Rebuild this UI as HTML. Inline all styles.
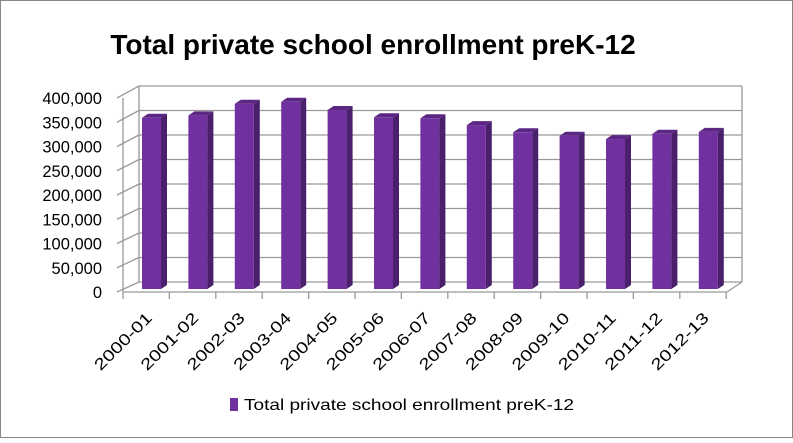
<!DOCTYPE html>
<html><head><style>body{margin:0;background:#fff}</style></head><body>
<svg width="793" height="438" xmlns="http://www.w3.org/2000/svg" font-family="Liberation Sans, sans-serif">
<rect x="0.5" y="0.5" width="792" height="437" fill="#fff" stroke="#888"/>
<text x="373" y="54" font-size="28" font-weight="bold" text-anchor="middle" fill="#000">Total private school enrollment preK-12</text>
<g stroke="#999" stroke-width="1.3" fill="none">
<line x1="139" y1="86" x2="139" y2="282"/>
<line x1="742" y1="86" x2="742" y2="282"/>
<line x1="123" y1="98" x2="123" y2="292"/>
<line x1="123" y1="292" x2="727" y2="292"/>
<line x1="727" y1="292" x2="742" y2="282"/>
<line x1="139" y1="282" x2="742" y2="282"/><line x1="117" y1="292" x2="139" y2="282"/>
<line x1="139" y1="257.5" x2="742" y2="257.5"/><line x1="117" y1="267.75" x2="139" y2="257.5"/>
<line x1="139" y1="233" x2="742" y2="233"/><line x1="117" y1="243.5" x2="139" y2="233"/>
<line x1="139" y1="208.5" x2="742" y2="208.5"/><line x1="117" y1="219.25" x2="139" y2="208.5"/>
<line x1="139" y1="184" x2="742" y2="184"/><line x1="117" y1="195" x2="139" y2="184"/>
<line x1="139" y1="159.5" x2="742" y2="159.5"/><line x1="117" y1="170.75" x2="139" y2="159.5"/>
<line x1="139" y1="135" x2="742" y2="135"/><line x1="117" y1="146.5" x2="139" y2="135"/>
<line x1="139" y1="110.5" x2="742" y2="110.5"/><line x1="117" y1="122.25" x2="139" y2="110.5"/>
<line x1="139" y1="86" x2="742" y2="86"/><line x1="117" y1="98" x2="139" y2="86"/>
<line x1="123" y1="292" x2="123" y2="299"/><line x1="169.4" y1="292" x2="169.4" y2="299"/><line x1="215.8" y1="292" x2="215.8" y2="299"/><line x1="262.2" y1="292" x2="262.2" y2="299"/><line x1="308.6" y1="292" x2="308.6" y2="299"/><line x1="355" y1="292" x2="355" y2="299"/><line x1="401.4" y1="292" x2="401.4" y2="299"/><line x1="447.8" y1="292" x2="447.8" y2="299"/><line x1="494.2" y1="292" x2="494.2" y2="299"/><line x1="540.6" y1="292" x2="540.6" y2="299"/><line x1="587" y1="292" x2="587" y2="299"/><line x1="633.4" y1="292" x2="633.4" y2="299"/><line x1="679.8" y1="292" x2="679.8" y2="299"/><line x1="726.2" y1="292" x2="726.2" y2="299"/>
</g>
<g>
<g transform="translate(142,117.8)"><rect width="19" height="171.2" fill="#7030a0"/><polygon points="19,0 25,-4 25,167.2 19,171.2" fill="#4a1f6c"/><polygon points="0,0 6,-4 25,-4 19,0" fill="#5c2685"/></g>
<g transform="translate(188.4,115.4)"><rect width="19" height="173.6" fill="#7030a0"/><polygon points="19,0 25,-4 25,169.6 19,173.6" fill="#4a1f6c"/><polygon points="0,0 6,-4 25,-4 19,0" fill="#5c2685"/></g>
<g transform="translate(234.8,103.7)"><rect width="19" height="185.3" fill="#7030a0"/><polygon points="19,0 25,-4 25,181.3 19,185.3" fill="#4a1f6c"/><polygon points="0,0 6,-4 25,-4 19,0" fill="#5c2685"/></g>
<g transform="translate(281.2,101.8)"><rect width="19" height="187.2" fill="#7030a0"/><polygon points="19,0 25,-4 25,183.2 19,187.2" fill="#4a1f6c"/><polygon points="0,0 6,-4 25,-4 19,0" fill="#5c2685"/></g>
<g transform="translate(327.6,110)"><rect width="19" height="179" fill="#7030a0"/><polygon points="19,0 25,-4 25,175 19,179" fill="#4a1f6c"/><polygon points="0,0 6,-4 25,-4 19,0" fill="#5c2685"/></g>
<g transform="translate(374,117.3)"><rect width="19" height="171.7" fill="#7030a0"/><polygon points="19,0 25,-4 25,167.7 19,171.7" fill="#4a1f6c"/><polygon points="0,0 6,-4 25,-4 19,0" fill="#5c2685"/></g>
<g transform="translate(420.4,118.3)"><rect width="19" height="170.7" fill="#7030a0"/><polygon points="19,0 25,-4 25,166.7 19,170.7" fill="#4a1f6c"/><polygon points="0,0 6,-4 25,-4 19,0" fill="#5c2685"/></g>
<g transform="translate(466.8,125.1)"><rect width="19" height="163.9" fill="#7030a0"/><polygon points="19,0 25,-4 25,159.9 19,163.9" fill="#4a1f6c"/><polygon points="0,0 6,-4 25,-4 19,0" fill="#5c2685"/></g>
<g transform="translate(513.2,132.3)"><rect width="19" height="156.7" fill="#7030a0"/><polygon points="19,0 25,-4 25,152.7 19,156.7" fill="#4a1f6c"/><polygon points="0,0 6,-4 25,-4 19,0" fill="#5c2685"/></g>
<g transform="translate(559.6,135.7)"><rect width="19" height="153.3" fill="#7030a0"/><polygon points="19,0 25,-4 25,149.3 19,153.3" fill="#4a1f6c"/><polygon points="0,0 6,-4 25,-4 19,0" fill="#5c2685"/></g>
<g transform="translate(606,139.1)"><rect width="19" height="149.9" fill="#7030a0"/><polygon points="19,0 25,-4 25,145.9 19,149.9" fill="#4a1f6c"/><polygon points="0,0 6,-4 25,-4 19,0" fill="#5c2685"/></g>
<g transform="translate(652.4,133.8)"><rect width="19" height="155.2" fill="#7030a0"/><polygon points="19,0 25,-4 25,151.2 19,155.2" fill="#4a1f6c"/><polygon points="0,0 6,-4 25,-4 19,0" fill="#5c2685"/></g>
<g transform="translate(698.8,131.9)"><rect width="19" height="157.1" fill="#7030a0"/><polygon points="19,0 25,-4 25,153.1 19,157.1" fill="#4a1f6c"/><polygon points="0,0 6,-4 25,-4 19,0" fill="#5c2685"/></g>
</g>
<g font-size="16.5" fill="#000" text-anchor="end">
<text x="102" y="298">0</text>
<text x="102" y="273.75">50,000</text>
<text x="102" y="249.5">100,000</text>
<text x="102" y="225.25">150,000</text>
<text x="102" y="201">200,000</text>
<text x="102" y="176.75">250,000</text>
<text x="102" y="152.5">300,000</text>
<text x="102" y="128.25">350,000</text>
<text x="102" y="104">400,000</text>
</g>
<g font-size="16" fill="#000" text-anchor="end">
<text transform="translate(153,319) rotate(-45)" textLength="74" lengthAdjust="spacingAndGlyphs">2000-01</text>
<text transform="translate(199.4,319) rotate(-45)" textLength="74" lengthAdjust="spacingAndGlyphs">2001-02</text>
<text transform="translate(245.8,319) rotate(-45)" textLength="74" lengthAdjust="spacingAndGlyphs">2002-03</text>
<text transform="translate(292.2,319) rotate(-45)" textLength="74" lengthAdjust="spacingAndGlyphs">2003-04</text>
<text transform="translate(338.6,319) rotate(-45)" textLength="74" lengthAdjust="spacingAndGlyphs">2004-05</text>
<text transform="translate(385,319) rotate(-45)" textLength="74" lengthAdjust="spacingAndGlyphs">2005-06</text>
<text transform="translate(431.4,319) rotate(-45)" textLength="74" lengthAdjust="spacingAndGlyphs">2006-07</text>
<text transform="translate(477.8,319) rotate(-45)" textLength="74" lengthAdjust="spacingAndGlyphs">2007-08</text>
<text transform="translate(524.2,319) rotate(-45)" textLength="74" lengthAdjust="spacingAndGlyphs">2008-09</text>
<text transform="translate(570.6,319) rotate(-45)" textLength="74" lengthAdjust="spacingAndGlyphs">2009-10</text>
<text transform="translate(617,319) rotate(-45)" textLength="74" lengthAdjust="spacingAndGlyphs">2010-11</text>
<text transform="translate(663.4,319) rotate(-45)" textLength="74" lengthAdjust="spacingAndGlyphs">2011-12</text>
<text transform="translate(709.8,319) rotate(-45)" textLength="74" lengthAdjust="spacingAndGlyphs">2012-13</text>
</g>
<rect x="230" y="398" width="8" height="13" fill="#7030a0"/>
<text x="244" y="410" font-size="16" textLength="330" lengthAdjust="spacingAndGlyphs">Total private school enrollment preK-12</text>
</svg>
</body></html>
